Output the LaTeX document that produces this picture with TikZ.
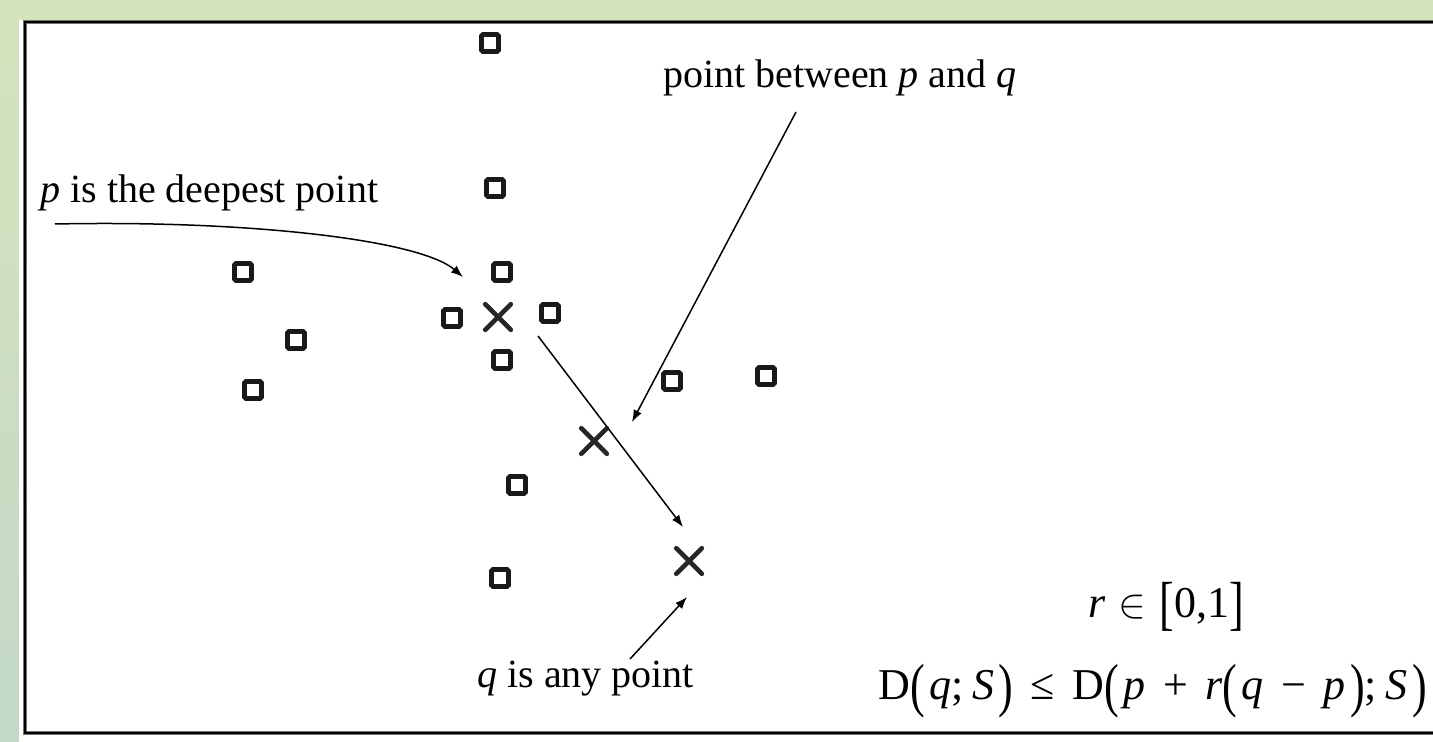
\documentclass[tikz,border=0pt]{standalone}
\usepackage{fontspec}
\setmainfont{Liberation Serif}
\usetikzlibrary{shapes.misc,arrows.meta}
\definecolor{bgtop}{HTML}{D5E3BB}
\definecolor{bgbot}{HTML}{C3D8C8}
\newcommand{\tallp}[1]{\raisebox{-0.14em}{\scalebox{1}[1.35]{#1}}}
\newcommand{\opsp}{\hspace{0.4em}}
\newcommand{\psp}{\hspace{0.1em}}
\begin{document}
\begin{tikzpicture}[x=0.5pt,y=-0.5pt,
  pt/.style={draw=black!90,line width=2.4pt,minimum size=8.5pt,inner sep=0pt,rounded corners=0.8pt},
  xpt/.style={cross out,draw=black!85,line width=2.3pt,line cap=round,minimum size=10.5pt,inner sep=0pt},
  lbl/.style={font=\fontsize{20}{24}\selectfont,inner sep=0pt,anchor=base west},
  eqn/.style={font=\fontsize{22}{26}\selectfont,inner sep=0pt,anchor=base west},
  arr/.style={line width=0.75pt,-{Latex[length=6pt,width=4.5pt]}}]
\useasboundingbox (0,0) rectangle (1433,742);
\shade[top color=bgtop,bottom color=bgbot] (0,0) rectangle (1433,742);
\fill[white] (19,20) rectangle (1433,742);
\draw[line width=1.6pt,black!55] (25,22) rectangle (1460,733);
\draw[line width=0.7pt,black] (25,22) rectangle (1460,733);
% data points
\node[pt] (s1) at (490,43) {};
\node[pt] (s2) at (495,188) {};
\node[pt] (s3) at (502,272) {};
\node[pt] (s4) at (452,318) {};
\node[pt] (s5) at (550,313) {};
\node[pt] (s6) at (502,360) {};
\node[pt] (s7) at (243,272) {};
\node[pt] (s8) at (296,340) {};
\node[pt] (s9) at (253,390) {};
\node[pt] (s10) at (672,381) {};
\node[pt] (s11) at (766,376) {};
\node[pt] (s12) at (517,485) {};
\node[pt] (s13) at (500,578) {};
% crosses
\node[xpt] (p) at (498,317) {};
\node[xpt] (m) at (594,441) {};
\node[xpt] (q) at (689,561) {};
% labels
\node[lbl] (lp) at (40,203) {\textit{p} is the deepest point};
\node[lbl] (lm) at (663,88) {point between \textit{p} and \textit{q}};
\node[lbl] (lq) at (477,687) {\textit{q} is any point};
\node[eqn] (eq1) at (1088,617) {\textit{r}\hspace{0.3em}$\in$\hspace{0.3em}\tallp{[}0,1\tallp{]}};
\node[eqn] (eq2) at (878,699) {D\tallp{(}\psp\textit{q};\hspace{0.2em}\textit{S}\psp\tallp{)}\opsp≤\opsp D\tallp{(}\psp\textit{p}\opsp+\opsp\textit{r}\tallp{(}\psp\textit{q}\opsp−\opsp\textit{p}\psp\tallp{)};\hspace{0.2em}\textit{S}\psp\tallp{)}};
% connector ends
\coordinate (a1s) at (55,224);
\coordinate (a1e) at (463,277);
\coordinate (a2s) at (796,112);
\coordinate (a2e) at (632,422);
\coordinate (a3s) at (538,336);
\coordinate (a3e) at (683,527);
\coordinate (a4s) at (630,659);
\coordinate (a4e) at (687,597);
\draw[arr] (a1s) .. controls (250,220) and (420,240) .. (a1e);
\draw[arr] (a2s) -- (a2e);
\draw[arr] (a3s) -- (a3e);
\draw[arr] (a4s) -- (a4e);
\end{tikzpicture}
\end{document}
